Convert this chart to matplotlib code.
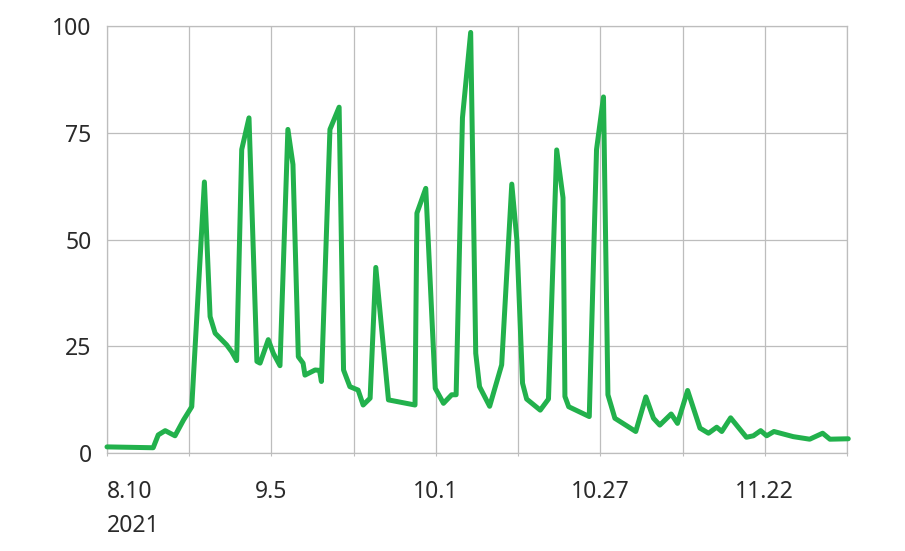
import matplotlib
matplotlib.use("Agg")
import matplotlib.pyplot as plt
import numpy as np

# dias desde 2021-08-10 y valor de interes (0-100)
dias = np.array([
    0.0, 7.3, 8.1, 9.2, 10.75, 12.1, 13.4, 15.4, 16.3, 17.1, 18.9, 19.7, 20.5,
    21.3, 22.45, 23.7, 24.2, 25.5, 26.3, 27.35, 28.6, 29.4, 30.25, 31.0, 31.3,
    32.9, 33.6, 33.9, 35.25, 36.7, 37.4, 38.4, 39.7, 40.5, 41.6, 42.5, 44.5,
    48.7, 49.0, 50.4, 51.9, 53.2, 54.5, 55.2, 56.2, 57.5, 58.3, 58.9, 60.5,
    62.4, 64.0, 64.8, 65.7, 66.35, 68.5, 69.8, 71.1, 72.1, 72.4, 73.0, 76.25,
    77.4, 78.5, 79.2, 80.3, 83.6, 85.2, 86.4, 87.4, 89.2, 90.2, 91.8, 93.75,
    95.1, 96.4, 97.2, 98.6, 101.1, 102.2, 103.35, 104.3, 105.45, 108.5, 111.1,
    113.15, 114.3, 117.2,
])
valores = np.array([
    1.5, 1.3, 4.3, 5.3, 4.1, 7.8, 10.9, 63.5, 32.0, 28.1, 25.4, 23.8, 21.7,
    71.1, 78.5, 21.5, 21.1, 26.6, 23.4, 20.5, 75.8, 67.6, 22.6, 21.1, 18.3,
    19.5, 19.4, 16.8, 75.8, 81.0, 19.5, 15.6, 14.8, 11.3, 12.9, 43.5, 12.5,
    11.3, 56.2, 62.0, 15.2, 11.7, 13.7, 13.7, 78.5, 98.5, 23.4, 15.6, 11.0,
    20.7, 63.0, 50.0, 16.4, 12.7, 10.1, 12.7, 71.0, 59.8, 13.3, 10.9, 8.6,
    71.1, 83.4, 13.7, 8.2, 5.1, 13.2, 8.2, 6.6, 9.2, 7.0, 14.7, 5.9,
    4.7, 6.1, 5.1, 8.3, 3.75, 4.1, 5.3, 4.1, 5.1, 3.9, 3.3,
    4.7, 3.3, 3.4,
])

ticks_dias = [0, 13, 26, 39, 52, 65, 78, 91, 104, 117]
etiquetas = ['8.10\n2021', '', '9.5', '', '10.1', '', '10.27', '', '11.22', '']
ticks_y = [0, 25, 50, 75, 100]

verde = '#22b14c'
gris = '#bdbdbd'
texto = '#2a2a2a'

plt.rcParams['font.family'] = ['Noto Sans', 'DejaVu Sans']

fig = plt.figure(figsize=(9.05, 5.51), dpi=100)
ax = fig.add_axes([107 / 905, 1 - 453.3 / 551, 740 / 905, 427.3 / 551])

ax.plot(dias, valores, color=verde, linewidth=3.6, solid_joinstyle='round',
        solid_capstyle='round', clip_on=False, zorder=3)

ax.set_xlim(0, 117)
ax.set_ylim(0, 100)
ax.set_xticks(ticks_dias)
ax.set_xticklabels(etiquetas)
ax.set_yticks(ticks_y)

ax.grid(True, color=gris, linewidth=0.9)
for s in ax.spines.values():
    s.set_color(gris)
    s.set_linewidth(0.9)

ax.tick_params(axis='x', length=2, color=gris, pad=17, labelsize=16.5,
               labelcolor=texto)
ax.tick_params(axis='y', length=0, pad=11, labelsize=16.5, labelcolor=texto)

labs = ax.get_xticklabels()
labs[0].set_horizontalalignment('left')
labs[0].set_linespacing(1.55)
labs[0].set_x(-0.8)

fig.savefig('out.png', dpi=100)
